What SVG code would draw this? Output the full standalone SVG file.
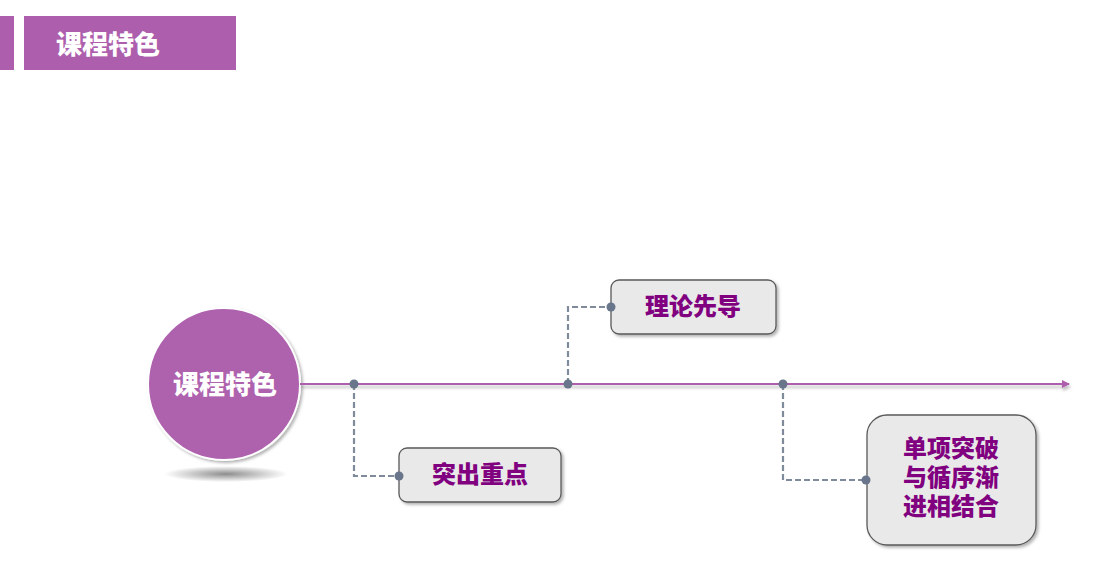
<svg xmlns="http://www.w3.org/2000/svg" width="1120" height="569" viewBox="0 0 1120 569">
<style>
.hdr{fill:#AD5FAD}
.t{font-family:"Noto Sans CJK SC","Noto Sans CJK TC",sans-serif;font-weight:900}
.w{fill:#FFFFFF}
.p{fill:#800080;font-size:24px;text-anchor:middle}
.box{fill:#E9E9E9;stroke:#5A5A5A;stroke-width:1.3}
.dash{fill:none;stroke:#7F8A9B;stroke-width:2.2;stroke-dasharray:6 3}
.dot{fill:#68758A}
</style>
<defs>
<radialGradient id="sh" cx="50%" cy="50%" r="50%">
<stop offset="0" stop-color="#000" stop-opacity="0.45"/>
<stop offset="1" stop-color="#000" stop-opacity="0"/>
</radialGradient>
<filter id="ds" x="-20%" y="-20%" width="150%" height="150%">
<feDropShadow dx="2" dy="2" stdDeviation="1.5" flood-color="#000" flood-opacity="0.3"/>
</filter>
<filter id="ls" filterUnits="userSpaceOnUse" x="280" y="370" width="820" height="30">
<feDropShadow dx="1" dy="3" stdDeviation="1.5" flood-color="#000" flood-opacity="0.25"/>
</filter>
<marker id="arr" markerWidth="8" markerHeight="8" refX="7" refY="4" orient="auto" markerUnits="userSpaceOnUse">
<path d="M0,0 L8,4 L0,8 Z" fill="#AD5FAD"/>
</marker>
</defs>
<g id="header">
<rect class="hdr" x="0" y="16" width="14" height="54"/>
<rect class="hdr" x="24" y="16" width="212" height="54"/>
<text class="t w" x="56" y="54" font-size="26">课程特色</text>
</g>
<g id="center">
<ellipse cx="226" cy="474" rx="62" ry="8" fill="url(#sh)"/>
<circle cx="224" cy="384" r="76" fill="#AE62AE" stroke="#FFFFFF" stroke-width="2" filter="url(#ds)"/>
<text class="t w" x="225" y="394" font-size="26" text-anchor="middle">课程特色</text>
</g>
<g id="node1">
<rect class="box" x="611" y="280" width="165" height="54" rx="8" filter="url(#ds)"/>
<text class="t p" x="693" y="315">理论先导</text>
</g>
<g id="node2">
<rect class="box" x="399" y="448" width="162" height="54" rx="8" filter="url(#ds)"/>
<text class="t p" x="480" y="483">突出重点</text>
</g>
<g id="node3">
<rect class="box" x="867" y="415" width="169" height="130" rx="20" filter="url(#ds)"/>
<text class="t p" x="951" y="457">单项突破</text>
<text class="t p" x="951" y="486">与循序渐</text>
<text class="t p" x="951" y="515">进相结合</text>
</g>
<g id="connectors">
<line x1="300" y1="384" x2="1069" y2="384" stroke="#AD5FAD" stroke-width="2" marker-end="url(#arr)" filter="url(#ls)"/>
<path class="dash" d="M354,384 V476 H399"/>
<path class="dash" d="M568,384 V307 H611"/>
<path class="dash" d="M783,384 V480 H866"/>
<circle class="dot" cx="354" cy="384" r="4.5"/>
<circle class="dot" cx="568" cy="384" r="4.5"/>
<circle class="dot" cx="783" cy="384" r="4.5"/>
<circle class="dot" cx="399" cy="476" r="4.5"/>
<circle class="dot" cx="611" cy="307" r="4.5"/>
<circle class="dot" cx="866" cy="480" r="4.5"/>
</g>
</svg>
